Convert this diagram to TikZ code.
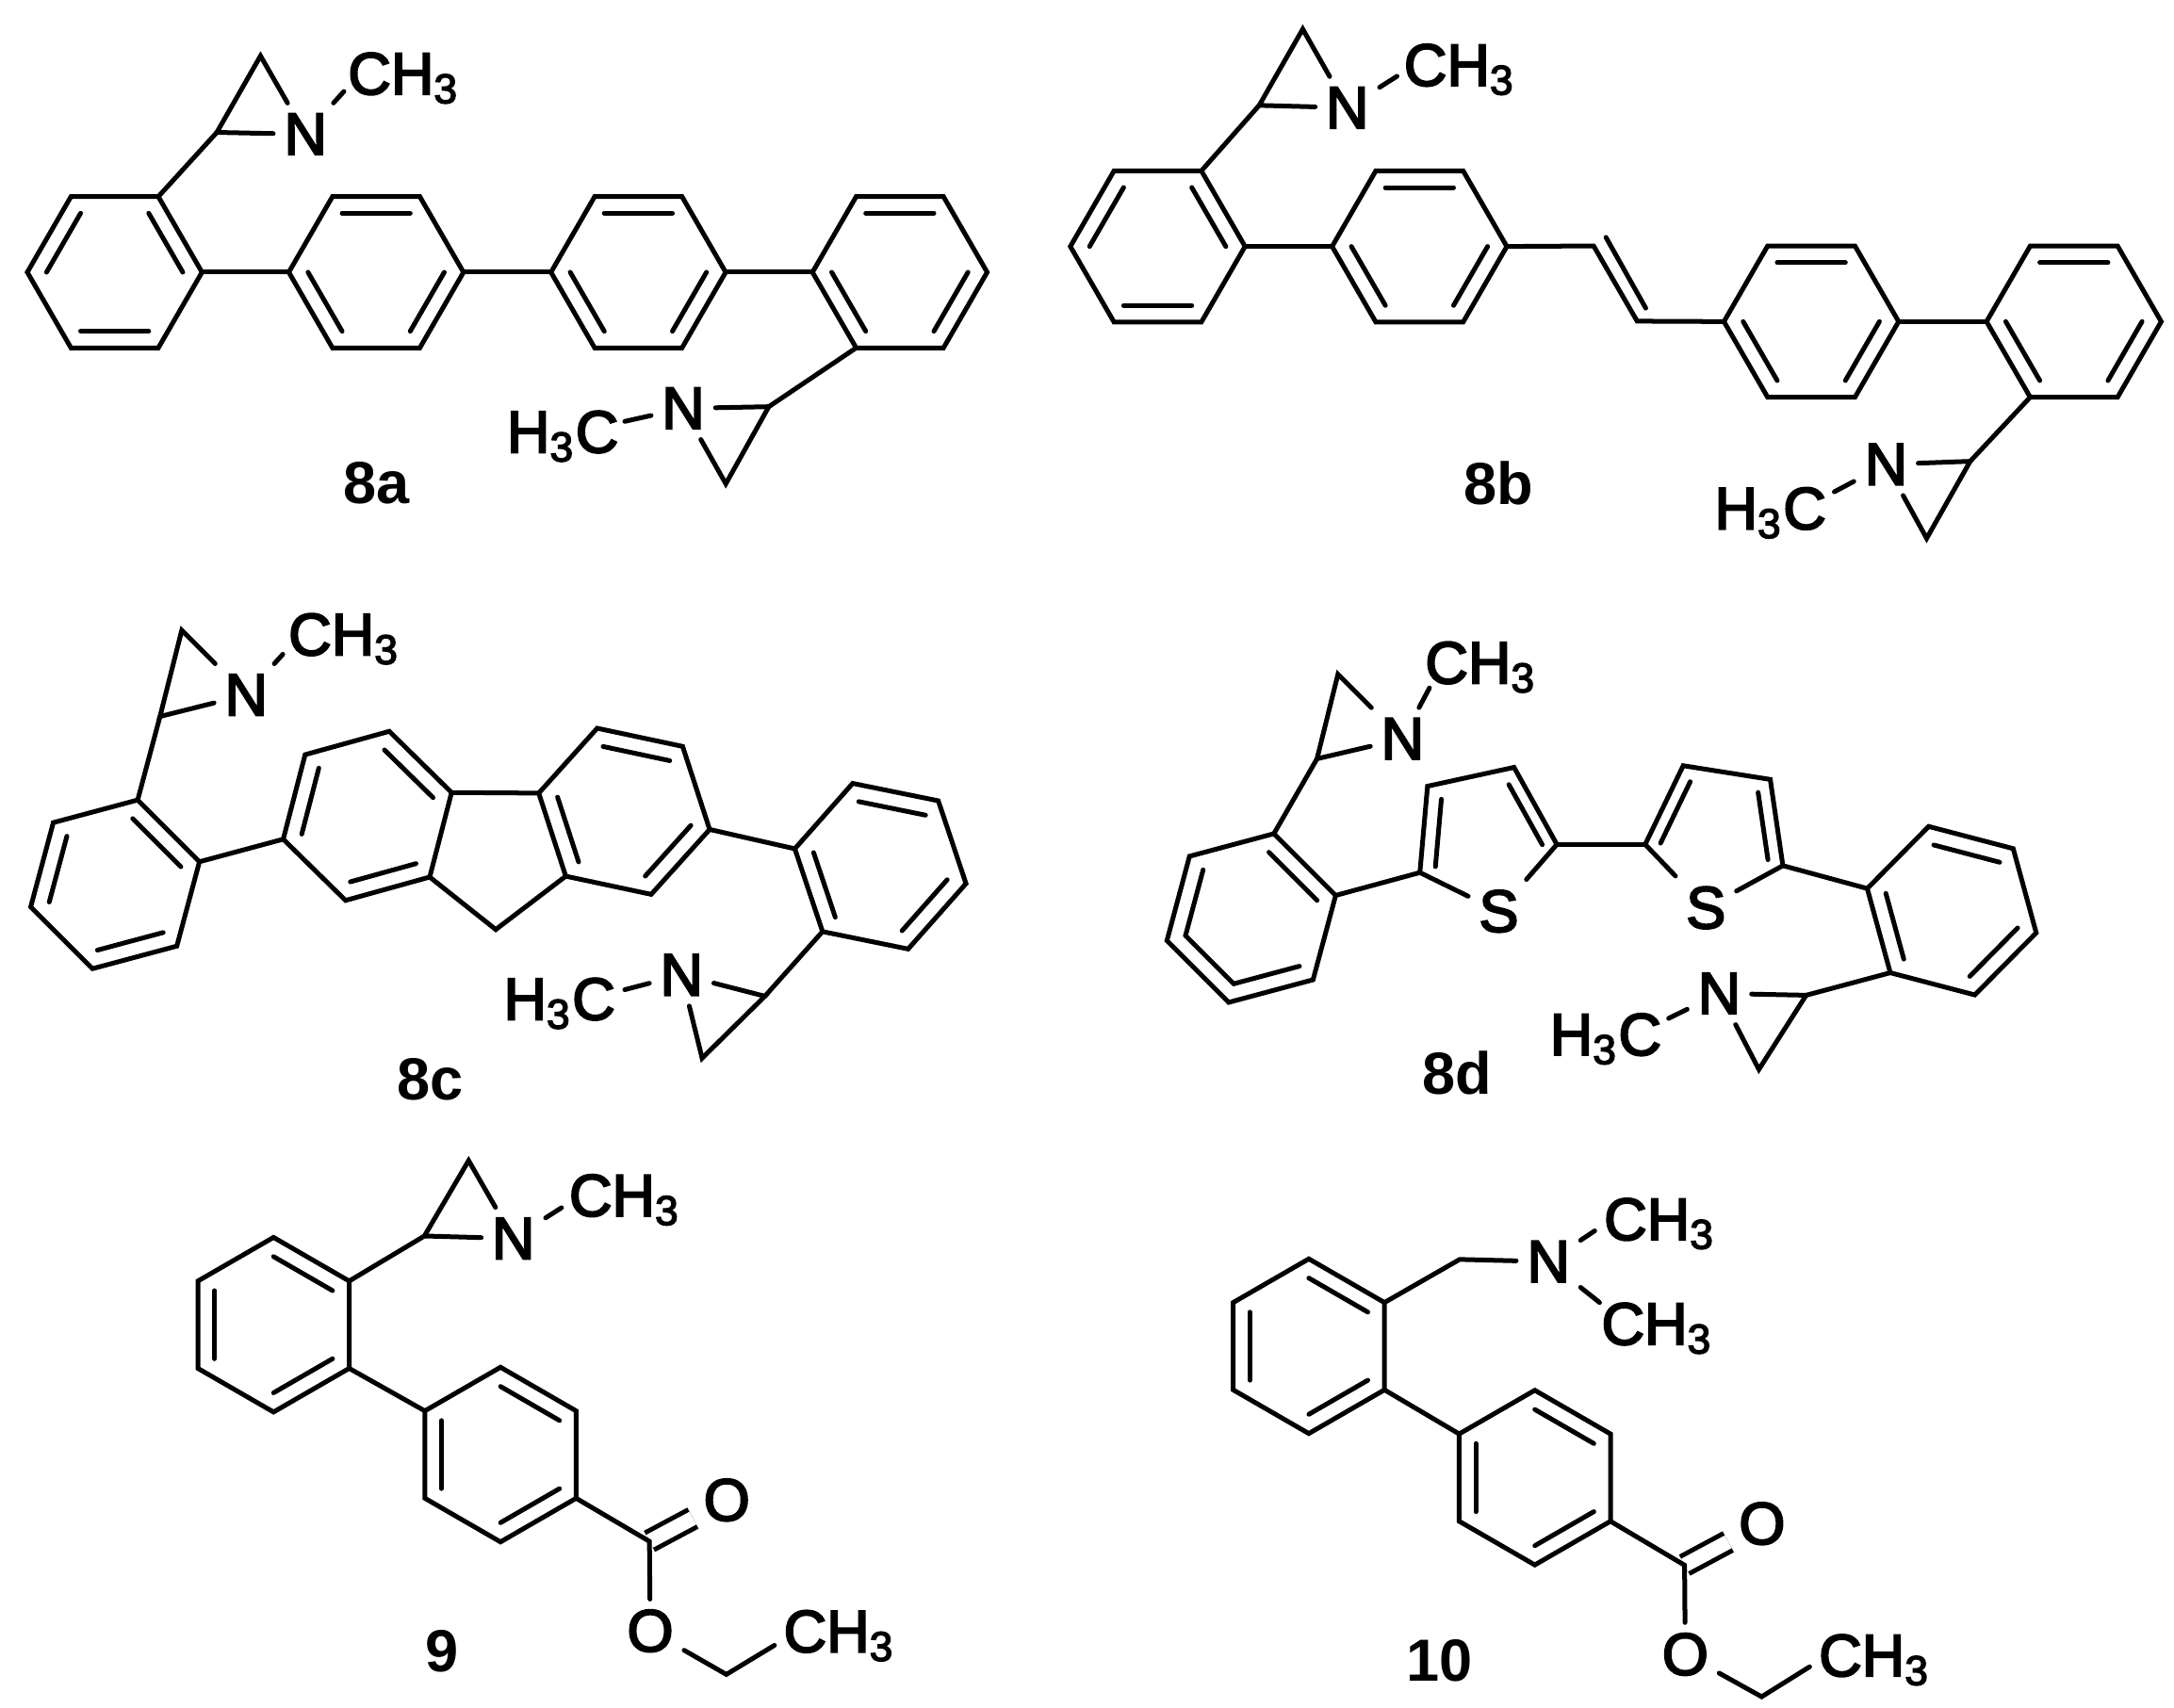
\documentclass[tikz,border=0pt]{standalone}
\usepackage{fontspec}
\setmainfont{Liberation Sans}
\newfontfamily\atomfont[FakeBold=3.2]{Liberation Sans}
\usetikzlibrary{calc}
\tikzset{
  bond/.style={line width=0.034cm,line cap=round},
  atom/.style={font=\atomfont\fontsize{12.2}{14}\selectfont,inner sep=2pt},
  grpl/.style={font=\atomfont\fontsize{12.2}{14}\selectfont,inner sep=0pt,anchor=base west},
  grpr/.style={font=\atomfont\fontsize{12.2}{14}\selectfont,inner sep=0pt,anchor=base east},
  molabel/.style={font=\fontsize{12.2}{14}\selectfont\bfseries,inner sep=0pt,anchor=base},
  dblbond/.style={line width=0.034cm,double,double distance=0.104cm},
}
% inner line of a double bond, pulled towards a centre
\newcommand\dbl[3]{\draw[bond] ($(#1)!.22!(#3)$) -- ($(#2)!.22!(#3)$);}
% name, centre, rotation, double bonds
\newcommand\hexring[4]{%
  \coordinate (#1) at (#2);
  \foreach \i in {1,...,6} {\coordinate (#1\i) at ($(#1)+(#3+60*\i-60:63)$);}
  \draw[bond] (#11) -- (#12) -- (#13) -- (#14) -- (#15) -- (#16) -- cycle;
  \foreach \u/\v in {#4} {\dbl{#1\u}{#1\v}{#1}}
}
\begin{document}
\begin{tikzpicture}[x=0.01cm,y=-0.01cm]
\useasboundingbox (0,0) rectangle (1568,1232);
% 8a
\hexring{a1}{82.7,196.4}{0}{6/1,2/3,4/5}
\hexring{a2}{271.3,196.4}{0}{5/6,3/4,1/2}
\hexring{a3}{460.4,196.4}{0}{5/6,3/4,1/2}
\hexring{a4}{649,196.4}{0}{5/6,3/4,1/2}
\draw[bond] (a11) -- (a24);
\draw[bond] (a21) -- (a34);
\draw[bond] (a31) -- (a44);
\coordinate (ac1) at (156.4,95.5);
\coordinate (ap1) at (187.9,40.3);
\node[atom](an1) at (220.3,96.8){N};
\node[grpl](am1) at (250.3,68){CH\textsubscript{3}};
\coordinate (at1) at (248,66);
\draw[bond] (a16) -- (ac1);
\draw[bond] (an1) -- (ap1) -- (ac1) -- (an1);
\draw[bond] (an1) -- (at1);
\coordinate (ac2) at (554.5,293.4);
\coordinate (ap2) at (523.5,349);
\node[atom](an2) at (492.8,294.6){N};
\node[grpr](am2) at (446.8,326.4){H\textsubscript{3}C};
\coordinate (at2) at (450.6,304);
\draw[bond] (a43) -- (ac2);
\draw[bond] (an2) -- (ap2) -- (ac2) -- (an2);
\draw[bond] (an2) -- (at2);
\node[molabel](la) at (271.5,363.6){8a};
% 8b
\hexring{b1}{835,177.8}{0}{6/1,2/3,4/5}
\hexring{b2}{1023.8,177.8}{0}{5/6,3/4,1/2}
\hexring{b3}{1306.4,232}{0}{5/6,3/4,1/2}
\hexring{b4}{1495.8,232}{0}{5/6,3/4,1/2}
\coordinate (bv1) at (1149.4,177.4);
\coordinate (bv2) at (1180.8,231.7);
\coordinate (bw1) at (1158.3,171.2);
\coordinate (bw2) at (1187,222.3);
\draw[bond] (b11) -- (b24);
\draw[bond] (b21) -- (bv1) -- (bv2) -- (b34);
\draw[bond] (bw1) -- (bw2);
\draw[bond] (b31) -- (b44);
\coordinate (bc1) at (908.2,76);
\coordinate (bp1) at (939.6,21);
\node[atom](bn1) at (971.8,77.7){N};
\node[grpl](bm1) at (1011.9,61.8){CH\textsubscript{3}};
\coordinate (bt1) at (1007.6,55);
\draw[bond] (b16) -- (bc1);
\draw[bond] (bn1) -- (bp1) -- (bc1) -- (bn1);
\draw[bond] (bn1) -- (bt1);
\coordinate (bc2) at (1421,332.8);
\coordinate (bp2) at (1389.6,388.4);
\node[atom](bn2) at (1360.3,335){N};
\node[grpr](bm2) at (1317.8,381.7){H\textsubscript{3}C};
\coordinate (bt2) at (1323,354.8);
\draw[bond] (b43) -- (bc2);
\draw[bond] (bn2) -- (bp2) -- (bc2) -- (bn2);
\draw[bond] (bn2) -- (bt2);
\node[molabel](lb) at (1081,364.2){8b};
% 8c
\hexring{c1}{83,638}{-15}{6/1,2/3,4/5}
\hexring{c2}{265,588.6}{-15.5}{6/1,2/3,4/5}
\hexring{c3}{450.2,585.3}{12}{1/2,3/4,5/6}
\hexring{c4}{635,624.9}{11.5}{1/2,3/4,5/6}
\coordinate (cs) at (357.6,670.6);
\draw[bond] (c11) -- (c24);
\draw[bond] (c21) -- (c34);
\draw[bond] (c22) -- (cs) -- (c33);
\draw[bond] (c31) -- (c44);
\coordinate (cc1) at (115.4,516.9);
\coordinate (cp1) at (131.1,454.7);
\node[atom](cn1) at (177.6,501.3){N};
\node[grpl](cm1) at (207.4,472.6){CH\textsubscript{3}};
\coordinate (ct1) at (204,472);
\draw[bond] (c16) -- (cc1);
\draw[bond] (cn1) -- (cp1) -- (cc1) -- (cn1);
\draw[bond] (cn1) -- (ct1);
\coordinate (cc2) at (551.7,718.7);
\coordinate (cp2) at (506.4,763.4);
\node[atom](cn2) at (491.6,703.3){N};
\node[grpr](cm2) at (444.4,735.6){H\textsubscript{3}C};
\coordinate (ct2) at (450.6,714);
\draw[bond] (c43) -- (cc2);
\draw[bond] (cn2) -- (cp2) -- (cc2) -- (cn2);
\draw[bond] (cn2) -- (ct2);
\node[molabel](lc) at (310.6,793.3){8c};
% 8d
\hexring{d1}{902.5,662.3}{-15}{6/1,2/3,3/4,4/5}
\hexring{d4}{1407.7,657}{14.7}{1/2,3/4,5/6}
\coordinate (ds1) at (1075,610);
\coordinate (ds2) at (1237,605);
\coordinate (dt1) at (1024.1,629.5);
\coordinate (dt2) at (1029.6,567.2);
\coordinate (dt3) at (1092,553.6);
\coordinate (dt4) at (1122.9,609.2);
\coordinate (du1) at (1186.6,609.2);
\coordinate (du2) at (1214,552.4);
\coordinate (du3) at (1276.8,562.3);
\coordinate (du4) at (1285.9,624.5);
\node[atom](dsa) at (1081,657.4){S};
\node[atom](dsb) at (1230.4,654.9){S};
\draw[bond] (dsa) -- (dt1) -- (dt2) -- (dt3) -- (dt4) -- (dsa);
\draw[bond] (dsb) -- (du1) -- (du2) -- (du3) -- (du4) -- (dsb);
\dbl{dt1}{dt2}{ds1}
\dbl{dt3}{dt4}{ds1}
\dbl{du1}{du2}{ds2}
\dbl{du3}{du4}{ds2}
\draw[bond] (d11) -- (dt1);
\draw[bond] (dt4) -- (du1);
\draw[bond] (du4) -- (d44);
\coordinate (dc1) at (949.9,547.4);
\coordinate (dp1) at (965,486.4);
\node[atom](dn1) at (1011.6,533){N};
\node[grpl](dm1) at (1027.2,493){CH\textsubscript{3}};
\coordinate (dq1) at (1031,496.3);
\draw[bond] (d16) -- (dc1);
\draw[bond] (dn1) -- (dp1) -- (dc1) -- (dn1);
\draw[bond] (dn1) -- (dq1);
\coordinate (dc2) at (1302.7,718);
\coordinate (dp2) at (1268.6,771.5);
\node[atom](dn2) at (1240.1,716.7){N};
\node[grpr](dm2) at (1199,761.2){H\textsubscript{3}C};
\coordinate (dq2) at (1203.5,734.7);
\draw[bond] (d43) -- (dc2);
\draw[bond] (dn2) -- (dp2) -- (dc2) -- (dn2);
\draw[bond] (dn2) -- (dq2);
\node[molabel](ld) at (1051,789.6){8d};
% 9
\hexring{e1}{197.3,955.7}{30}{5/6,1/2,3/4}
\hexring{e2}{361,1049.4}{30}{5/6,1/2,3/4}
\draw[bond] (e11) -- (e24);
\coordinate (ec1) at (306.1,891.7);
\coordinate (ep1) at (338,837.3);
\node[atom](en1) at (370.3,893.5){N};
\node[grpl](em1) at (409.8,877.3){CH\textsubscript{3}};
\coordinate (eq1) at (405,871.3);
\draw[bond] (e16) -- (ec1);
\draw[bond] (en1) -- (ep1) -- (ec1) -- (en1);
\draw[bond] (en1) -- (eq1);
\coordinate (ec2) at (468.4,1112);
\coordinate (ee) at (523.9,1208);
\node[atom](eo1) at (524.2,1082.2){O};
\node[atom](eo2) at (469,1176.6){O};
\node[grpl](em2) at (564.5,1191.8){CH\textsubscript{3}};
\coordinate (eq2) at (558.6,1187);
\draw[dblbond] (ec2) -- (eo1);
\draw[bond] (e21) -- (ec2) -- (eo2);
\draw[bond] (eo2) -- (ee) -- (eq2);
\node[molabel](le) at (318.5,1205.9){9};
% 10
\hexring{f1}{944,971.2}{30}{5/6,1/2,3/4}
\hexring{f2}{1107,1066}{30}{5/6,1/2,3/4}
\draw[bond] (f11) -- (f24);
\coordinate (fc1) at (1052.8,908.6);
\node[atom](fn1) at (1116.8,910.2){N};
\node[grpl](fm1) at (1156.2,894.5){CH\textsubscript{3}};
\node[grpl](fm2) at (1154.4,970){CH\textsubscript{3}};
\coordinate (fq1) at (1150.2,888);
\coordinate (fq2) at (1153.7,939.7);
\draw[bond] (f16) -- (fc1) -- (fn1);
\draw[bond] (fn1) -- (fq1);
\draw[bond] (fn1) -- (fq2);
\coordinate (fc2) at (1215,1129.2);
\coordinate (fe) at (1270.6,1224.1);
\node[atom](fo1) at (1270.9,1099.2){O};
\node[atom](fo2) at (1215.5,1193.5){O};
\node[grpl](fm3) at (1311.2,1209.2){CH\textsubscript{3}};
\coordinate (fq3) at (1305.2,1202.5);
\draw[dblbond] (fc2) -- (fo1);
\draw[bond] (f21) -- (fc2) -- (fo2);
\draw[bond] (fo2) -- (fe) -- (fq3);
\node[molabel](lf) at (1038,1212.9){10};
\end{tikzpicture}
\end{document}
